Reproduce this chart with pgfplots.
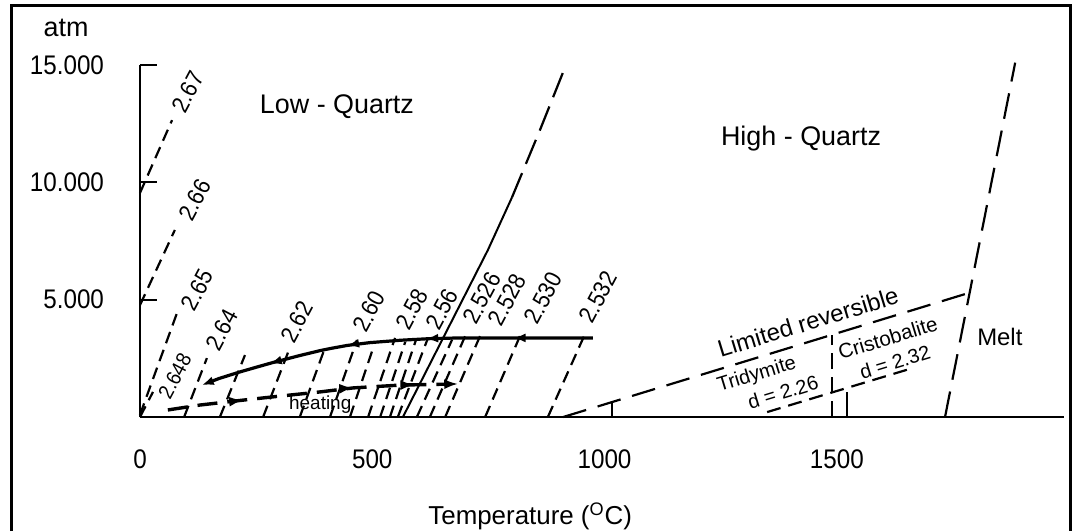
\documentclass[border=0pt]{standalone}
\usepackage{fontspec}
\setmainfont{Liberation Sans}
\newfontfamily\narrowsf{Liberation Sans}[FakeStretch=0.9]
\usepackage{pgfplots}
\pgfplotsset{compat=1.18}
\usetikzlibrary{arrows.meta,decorations.markings}

\begin{document}
\begin{tikzpicture}[x=1bp,y=1bp,
  iso/.style={black, line width=1.1bp, dash pattern=on 6bp off 3.5bp},
  dlab/.style={font=\narrowsf\fontsize{12}{13}\selectfont, rotate=62, inner sep=0pt},
  big/.style={font=\fontsize{13.5}{14}\selectfont, inner sep=0pt},
  mid/.style={font=\fontsize{10.3}{12}\selectfont, inner sep=0pt, rotate=17},
  tip/.tip={Latex[length=6bp,width=4.5bp]},
  htip/.tip={Latex[length=7bp,width=5bp]}]
\useasboundingbox (0,0) rectangle (538,265.5);
% frame round the figure
\draw[line width=1.5bp] (5.5,0) -- (5.5,262.8) -- (535,262.8) -- (535,0);
\begin{axis}[
  at={(70bp,57bp)}, anchor=south west,
  scale only axis, width=462.2bp, height=176bp,
  xmin=0, xmax=1990, ymin=0, ymax=15,
  axis x line=bottom, axis y line=left,
  axis line style={-, line width=1.4bp},
  clip=false,
  xtick={0,500,1000,1500}, xticklabels={0,500,1000,1500},
  ytick={5,10,15}, yticklabels={5.000,10.000,15.000},
  xtick style={draw=none},
  ytick style={line width=1.1bp, black},
  tick align=inside, major tick length=8.5bp,
  xticklabel style={yshift=-13bp},
  yticklabel style={xshift=-14.5bp},
  tick label style={font=\narrowsf\fontsize{13.5}{14}\selectfont},
  /pgf/number format/assume math mode=true,
]
% low / high quartz transition
\addplot[black, line width=1bp] coordinates {(566,0) (749,7.12) (801,9.37)};
\addplot[black, line width=1.1bp, dash pattern=on 13bp off 5bp] coordinates {(801,9.37) (861,12.23) (917,15.0)};

% isochores, low quartz
\addplot[iso] coordinates {(0,9.55) (69,12.65)};   % 2.67
\addplot[iso] coordinates {(0,4.77) (75,7.97)};    % 2.66
\addplot[iso] coordinates {(0,0.1) (82,4.56)};     % 2.65
\addplot[iso] coordinates {(0,0) (28,1.07)};       % 2.648
\addplot[iso] coordinates {(95,0) (144,2.51)};     % 2.64
\addplot[iso] coordinates {(172,0) (226,2.64)};
\addplot[iso] coordinates {(265,0) (319,2.77)};    % 2.62
\addplot[iso] coordinates {(344,0) (398,2.94)};
\addplot[iso] coordinates {(409,0) (467,3.28)};    % 2.60
\addplot[iso] coordinates {(452,0) (504,3.07)};
\addplot[iso] coordinates {(491,0) (549,3.37)};    % 2.58
\addplot[iso] coordinates {(517,0) (571,3.2)};
\addplot[iso] coordinates {(538,0) (594,3.28)};
\addplot[iso] coordinates {(555,0) (620,3.37)};    % 2.56
% isochores, high quartz
\addplot[iso] coordinates {(596,0) (672,3.3)};
\addplot[iso] coordinates {(624,0) (700,3.45)};    % 2.526
\addplot[iso] coordinates {(657,0) (732,3.45)};    % 2.528
\addplot[iso] coordinates {(743,0) (818,3.45)};    % 2.530
\addplot[iso] coordinates {(878,0) (956,3.45)};    % 2.532

% cooling path
\addplot[black, line width=1.6bp, -{tip},
  postaction={-, decorate},
  decoration={markings,
    mark=at position 0.2 with {\arrow{tip}},
    mark=at position 0.42 with {\arrow{tip}},
    mark=at position 0.62 with {\arrow{tip}},
    mark=at position 0.82 with {\arrow{tip}}}]
  coordinates {(975,3.37) (818,3.37) (689,3.37) (624,3.34) (560,3.27) (495,3.17)
               (446,3.05) (410,2.92) (388,2.83) (344,2.62) (284,2.31) (250,2.12) (215,1.92) (170,1.64) (133,1.36)};
% heating path
\addplot[black, line width=1.7bp, dash pattern=on 10bp off 5bp, -{htip},
  postaction={-, decorate},
  decoration={markings,
    mark=at position 0.26 with {\arrow{htip}},
    mark=at position 0.64 with {\arrow{htip}},
    mark=at position 0.85 with {\arrow{htip}}}]
  coordinates {(60,0.30) (129,0.51) (222,0.72) (301,0.89) (388,1.07) (459,1.24) (560,1.36) (685,1.41)};

% tridymite / cristobalite / melt
\addplot[black, line width=1.1bp, dash pattern=on 12bp off 6bp] coordinates {(911,0) (1783,5.28)};
\addplot[black, line width=1.1bp, dash pattern=on 13bp off 6bp] coordinates {(1733,0) (1884,15.1)};
\addplot[black, line width=1.1bp, dash pattern=on 7bp off 4bp] coordinates {(1350,0.21) (1664,2.09)};
\addplot[black, line width=1.1bp, dash pattern=on 8bp off 4bp] coordinates {(1490,0) (1490,3.51)};
\addplot[black, line width=1.1bp] coordinates {(1522,0) (1522,1.05)};
\addplot[black, line width=1.1bp] coordinates {(1016,0) (1016,0.64)};

% density labels
\node[dlab] at (axis cs:103,13.85) {2.67};
\node[dlab] at (axis cs:118,9.25) {2.66};
\node[dlab] at (axis cs:123,5.41) {2.65};
\node[dlab, font=\narrowsf\fontsize{10.5}{11}\selectfont] at (axis cs:75,1.75) {2.648};
\node[dlab] at (axis cs:176,3.71) {2.64};
\node[dlab] at (axis cs:338,4.05) {2.62};
\node[dlab] at (axis cs:493,4.5) {2.60};
\node[dlab] at (axis cs:585,4.6) {2.58};
\node[dlab] at (axis cs:650,4.6) {2.56};
\node[dlab] at (axis cs:736,5.07) {2.526};
\node[dlab] at (axis cs:790,5.0) {2.528};
\node[dlab] at (axis cs:868,5.07) {2.530};
\node[dlab] at (axis cs:986,5.11) {2.532};

% field names
\node[big] at (axis cs:424,13.21) {Low - Quartz};
\node[big] at (axis cs:1423,11.85) {High - Quartz};
\node[big, font=\fontsize{12}{13}\selectfont] at (axis cs:1851,3.41) {Melt};
\node[mid, font=\fontsize{12}{13}\selectfont] at (axis cs:1438,4.05) {Limited reversible};
\node[mid, font=\fontsize{10}{12}\selectfont] at (axis cs:1328,1.79) {Tridymite};
\node[mid, font=\fontsize{10}{12}\selectfont] at (axis cs:1384,1.05) {d = 2.26};
\node[mid] at (axis cs:1610,3.37) {Cristobalite};
\node[mid, font=\fontsize{10}{12}\selectfont] at (axis cs:1625,2.34) {d = 2.32};
\node[font=\fontsize{9.5}{10}\selectfont, inner sep=0pt] at (axis cs:388,0.51) {heating};

% axis titles
\node[font=\fontsize{13.5}{14}\selectfont, inner sep=0pt] at (axis cs:-159,16.57) {atm};
\node[font=\fontsize{13}{14}\selectfont, inner sep=0pt] at (axis cs:840,-4.22) {Temperature (\textsuperscript{O}C)};
\end{axis}
\end{tikzpicture}
\end{document}
